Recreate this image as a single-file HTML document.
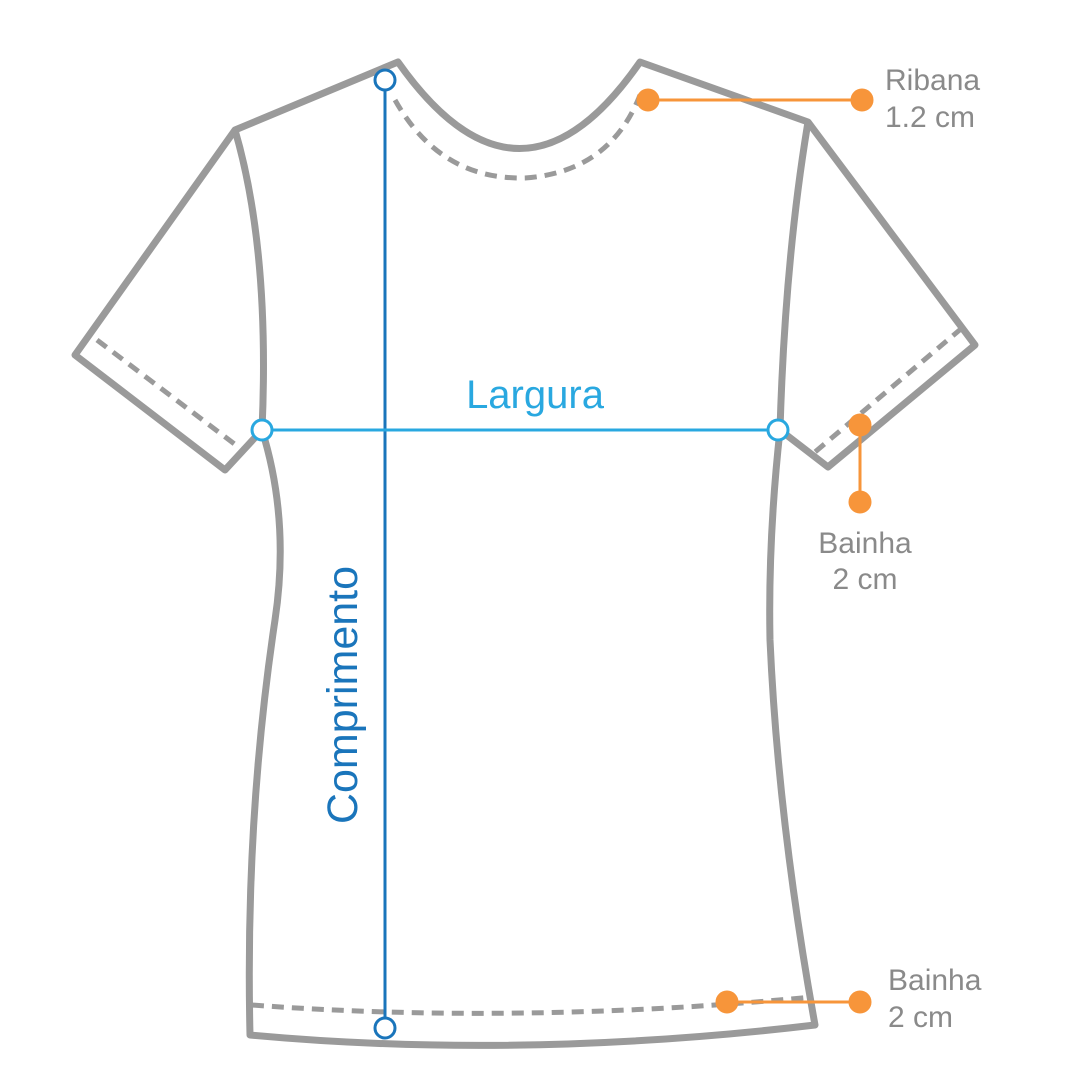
<!DOCTYPE html>
<html><head><meta charset="utf-8"><style>
html,body{margin:0;padding:0;background:#fff}
svg{display:block}
text{font-family:"Liberation Sans",sans-serif}
</style></head><body>
<svg width="1080" height="1080" viewBox="0 0 1080 1080">
<g fill="none" stroke="#9a9a9a" stroke-width="7" stroke-linejoin="round">
<path d="M398,62 Q520,235 640,62 L808,122 L975,345 L828,467 L780,430 Q768,540 770,640 Q778,820 815,1025 Q520,1060 250,1035 Q245,820 275,620 Q290,520 262,430 L225,470 L75,355 L235,130 Z"/>
<path d="M235,130 Q270,250 262,430"/>
<path d="M808,122 Q785,260 780,430"/>
</g>
<g fill="none" stroke="#9a9a9a" stroke-width="5" stroke-dasharray="12,8">
<path d="M395,100 Q440,180 525,178 Q610,172 640,95"/>
<path d="M97,340 L245,452"/>
<path d="M962,328 L815,452"/>
<path d="M252,1005 Q520,1025 812,997"/>
</g>
<g>
<line x1="385" y1="90" x2="385" y2="1018" stroke="#1a75bb" stroke-width="3"/>
<circle cx="385" cy="80" r="10" fill="#fff" stroke="#1a75bb" stroke-width="3"/>
<circle cx="385" cy="1028" r="10" fill="#fff" stroke="#1a75bb" stroke-width="3"/>
<text transform="translate(357,695) rotate(-90)" text-anchor="middle" font-size="43" fill="#1a75bb">Comprimento</text>
</g>
<g>
<line x1="272" y1="430" x2="768" y2="430" stroke="#29a8e0" stroke-width="3"/>
<circle cx="262" cy="430" r="10" fill="#fff" stroke="#29a8e0" stroke-width="3"/>
<circle cx="778" cy="430" r="10" fill="#fff" stroke="#29a8e0" stroke-width="3"/>
<text x="535" y="408" text-anchor="middle" font-size="40" fill="#29a8e0">Largura</text>
</g>
<g stroke="#f7953a" stroke-width="3" fill="#f7953a">
<line x1="648" y1="100" x2="862" y2="100"/><circle cx="648" cy="100" r="10"/><circle cx="862" cy="100" r="10"/>
<line x1="860" y1="425" x2="860" y2="502"/><circle cx="860" cy="425" r="10"/><circle cx="860" cy="502" r="10"/>
<line x1="727" y1="1002" x2="860" y2="1002"/><circle cx="727" cy="1002" r="10"/><circle cx="860" cy="1002" r="10"/>
</g>
<g font-size="30" fill="#8a8a8a">
<text x="885" y="90">Ribana</text>
<text x="885" y="127">1.2 cm</text>
<text x="865" y="553" text-anchor="middle">Bainha</text>
<text x="865" y="589" text-anchor="middle">2 cm</text>
<text x="888" y="990">Bainha</text>
<text x="888" y="1027">2 cm</text>
</g>
</svg>
</body></html>
